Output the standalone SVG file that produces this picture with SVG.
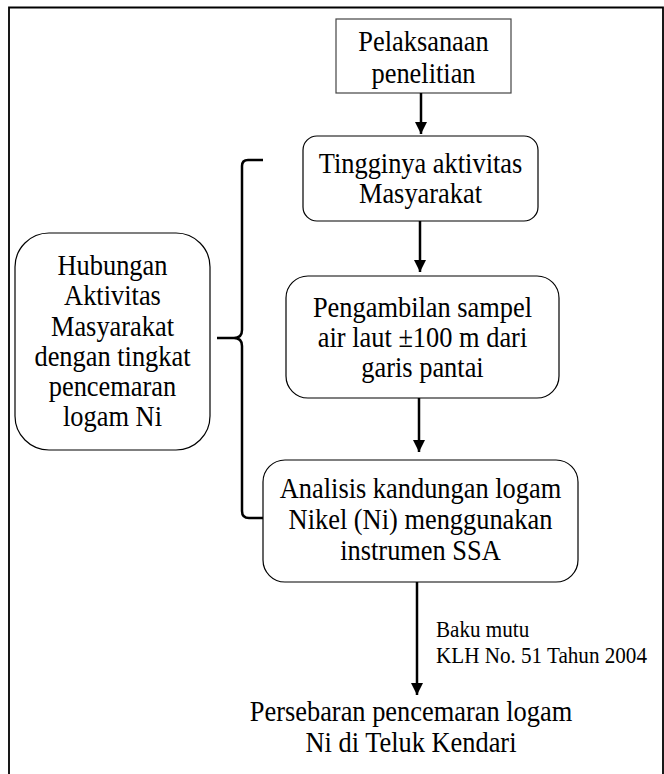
<svg xmlns="http://www.w3.org/2000/svg" width="664" height="774" viewBox="0 0 664 774">
<style>
text{font-family:"Liberation Serif","Times New Roman",serif;fill:#000;}
.t{font-size:30px;text-anchor:middle;}
.s{font-size:24px;}
.box{fill:#fff;stroke:#000;stroke-width:1.2;}
.sq{fill:#fff;stroke:#444;stroke-width:1.2;}
.ln{stroke:#000;stroke-width:2.5;fill:none;}
.br{stroke:#000;stroke-width:2.5;fill:none;stroke-linejoin:round;}
</style>
<defs>
<marker id="ah" markerWidth="12" markerHeight="12" viewBox="0 0 12 12" refX="12" refY="6" orient="auto" markerUnits="userSpaceOnUse">
<path d="M0,0 L12,6 L0,12 Z" fill="#000"/>
</marker>
</defs>
<rect x="0" y="0" width="664" height="774" fill="#fff"/>
<path d="M9,780 L9,7.5 L663,7.5 L663,780" fill="none" stroke="#000" stroke-width="1.8"/>

<g id="n1">
<rect class="sq" x="336" y="19" width="175" height="74"/>
<g transform="translate(423.5,0) scale(0.88,1)">
<text class="t" x="0" y="51">Pelaksanaan</text>
<text class="t" x="0" y="83">penelitian</text>
</g>
</g>
<g id="n2">
<rect class="box" x="303" y="136" width="235" height="85" rx="14"/>
<g transform="translate(420.5,0) scale(0.88,1)">
<text class="t" x="0" y="173">Tingginya aktivitas</text>
<text class="t" x="0" y="203">Masyarakat</text>
</g>
</g>
<g id="n3">
<rect class="box" x="286" y="276" width="273" height="122" rx="22"/>
<g transform="translate(422.5,0) scale(0.88,1)">
<text class="t" x="0" y="317">Pengambilan sampel</text>
<text class="t" x="0" y="347">air laut ±100 m dari</text>
<text class="t" x="0" y="377">garis pantai</text>
</g>
</g>
<g id="n4">
<rect class="box" x="263" y="460" width="315" height="122" rx="22"/>
<g transform="translate(420.5,0) scale(0.88,1)">
<text class="t" x="0" y="498">Analisis kandungan logam</text>
<text class="t" x="0" y="529">Nikel (Ni) menggunakan</text>
<text class="t" x="0" y="560">instrumen SSA</text>
</g>
</g>
<g id="n5">
<rect class="box" x="15" y="233" width="195" height="217" rx="34"/>
<g transform="translate(112.5,0) scale(0.88,1)">
<text class="t" x="0" y="275">Hubungan</text>
<text class="t" x="0" y="305">Aktivitas</text>
<text class="t" x="0" y="336">Masyarakat</text>
<text class="t" x="0" y="366">dengan tingkat</text>
<text class="t" x="0" y="396">pencemaran</text>
<text class="t" x="0" y="426">logam Ni</text>
</g>
</g>
<g id="n6">
<g transform="translate(411,0) scale(0.88,1)">
<text class="t" x="0" y="721">Persebaran pencemaran logam</text>
<text class="t" x="0" y="752">Ni di Teluk Kendari</text>
</g>
</g>

<g id="connectors">
<line class="ln" x1="421" y1="93" x2="421" y2="134" marker-end="url(#ah)"/>
<line class="ln" x1="420" y1="221" x2="420" y2="272" marker-end="url(#ah)"/>
<line class="ln" x1="419" y1="398" x2="419" y2="452" marker-end="url(#ah)"/>
<line class="ln" x1="417" y1="582" x2="417" y2="695" marker-end="url(#ah)"/>
<path class="br" d="M263,160 L248,160 Q242,160 242,166 L242,330 Q242,338 234,338 L217,338 M234,338 Q242,338 242,346 L242,511 Q242,518 249,518 L263,518"/>
<g transform="translate(436,0) scale(0.88,1)">
<text class="s" x="0" y="637">Baku mutu</text>
<text class="s" x="0" y="663">KLH No. 51 Tahun 2004</text>
</g>
</g>
</svg>
